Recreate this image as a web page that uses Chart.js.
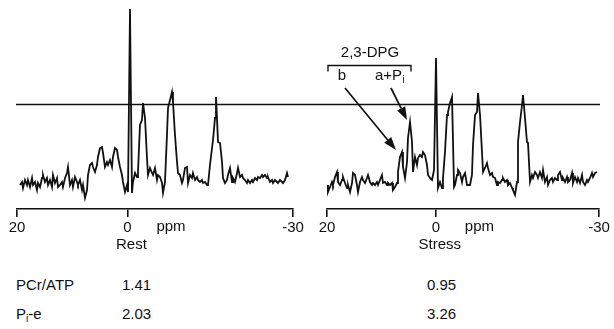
<!DOCTYPE html>
<html lang="en">
<head>
<meta charset="UTF-8">
<script src="https://cdn.jsdelivr.net/npm/chart.js"></script>
<title>31P spectra: rest and stress</title>
<style>
    body {
        margin: 0;
        background: #fff;
        font-family: "Liberation Sans", Arial, sans-serif;
        color: #111;
    }
    #wrap {
        position: relative;
        width: 614px;
        height: 329px;
        overflow: hidden;
    }
    canvas {
        position: absolute;
        top: 0;
    }
    #restChart { left: 0; }
    #stressChart { left: 310px; }
    .cell {
        position: absolute;
        font-size: 15px;
        line-height: 16px;
        white-space: nowrap;
    }
    .cell sub {
        font-size: 10px;
        vertical-align: -3px;
        line-height: 0;
    }
</style>
</head>
<body>
<div id="wrap">
    <canvas id="restChart" width="310" height="260"></canvas>
    <canvas id="stressChart" width="304" height="260"></canvas>
</div>

<script>
    // ---- data (ppm, arbitrary intensity 0-100) ----
    const axisTicks = [20, 0, -30];
    const refLevel = 52.5;   // horizontal reference line

    const restPpm = [
        19.46, 19.09, 18.91, 18.55, 18.19, 18.01, 17.64, 17.28, 17.10, 16.74, 16.38, 16.20, 15.83, 15.47, 15.29, 14.93, 14.57, 14.38, 14.02, 13.66, 13.48, 13.12, 12.75, 12.57,
        12.21, 11.85, 11.67, 11.30, 10.94, 10.76, 10.40, 10.04, 9.86, 9.49, 9.13, 8.95, 8.59, 8.22, 8.04, 7.68, 7.32, 7.14, 6.78, 6.41, 6.23, 5.87, 5.51, 5.33,
        4.96, 4.60, 4.42, 4.06, 3.70, 3.51, 3.15, 2.79, 2.61, 2.25, 1.88, 1.70, 1.34, 0.98, 0.80, 0.43, 0.07, -0.11, -0.47, -0.83, -1.01, -1.38, -1.74, -1.92,
        -2.28, -2.64, -2.83, -3.19, -3.55, -3.73, -4.09, -4.46, -4.64, -5.00, -5.36, -5.54, -5.91, -6.27, -6.45, -6.81, -7.17, -7.36, -7.72, -8.08, -8.26, -8.62, -8.99, -9.17,
        -9.53, -9.89, -10.07, -10.43, -10.80, -10.98, -11.34, -11.70, -11.88, -12.25, -12.61, -12.79, -13.15, -13.51, -13.70, -14.06, -14.42, -14.60, -14.96, -15.33, -15.51, -15.87, -16.05, -16.23, -16.41,
        -16.78, -17.14, -17.32, -17.68, -18.04, -18.22, -18.59, -18.95, -19.13, -19.49, -19.86, -20.04, -20.40, -20.76, -20.94, -21.30, -21.67, -21.85, -22.21, -22.57, -22.75, -23.12, -23.48, -23.66,
        -24.02, -24.38, -24.57, -24.93, -25.29, -25.47, -25.83, -26.20, -26.38, -26.74, -27.10, -27.28, -27.64, -28.01, -28.19, -28.55, -28.91, -29.09
    ];
    const restIntensity = [
        12, 13.5, 10.5, 14.5, 12, 14.5, 11, 15.5, 12, 13.5, 9.5, 13, 11, 15.5, 17, 13.5, 15.5, 12, 14.5, 11, 17, 13, 15.5, 11,
        12, 13.5, 11, 15.5, 18, 21, 12, 14.5, 11, 16, 13.5, 12, 14.5, 9.5, 12, 5.5, 9.5, 17, 22, 23, 21, 18.5, 22, 26,
        30.5, 31, 28, 21, 23.5, 22, 24.5, 21, 26, 30.5, 29.5, 26, 21, 17, 13.5, 8.5, 12, 8.5, 100, 8, 13.5, 18, 16, 18.5,
        42, 44.5, 53, 45.5, 25.5, 17, 20.5, 18, 17, 20.5, 14.5, 17, 16, 13, 8, 13.5, 37, 50.5, 54.5, 58.5, 53.5, 37, 23.5, 18,
        17, 13, 14.5, 20.5, 21, 13, 17, 15.5, 18, 14.5, 16, 14.5, 13.5, 14.5, 13, 13.5, 12, 12, 22, 30.5, 34.5, 45.5, 56, 45.5, 33.5,
        33, 23.5, 15.5, 13, 14.5, 17, 20.5, 13.5, 15.5, 13.5, 18, 20.5, 16, 17, 15.5, 14.5, 13, 14.5, 13, 14.5, 13.5, 15.5, 14.5, 16,
        15.5, 17, 16, 17, 15.5, 16, 13.5, 14.5, 13, 14.5, 13.5, 13, 14.5, 13.5, 13, 14.5, 18, 16
    ];

    const stressPpm = [
        19.95, 19.82, 19.45, 19.08, 18.90, 18.53, 18.16, 17.98, 17.61, 17.24, 17.06, 16.69, 16.32, 16.14, 15.77, 15.40, 15.22, 14.85, 14.49, 14.30, 13.93, 13.57, 13.38, 13.01,
        12.65, 12.46, 12.10, 11.73, 11.54, 11.18, 10.81, 10.62, 10.26, 9.89, 9.71, 9.34, 8.97, 8.79, 8.42, 8.05, 7.87, 7.50, 7.13, 6.95, 6.58, 6.21, 6.03, 5.66,
        5.29, 5.11, 4.74, 4.37, 4.19, 3.82, 3.46, 3.27, 2.90, 2.54, 2.35, 1.99, 1.62, 1.43, 1.07, 0.70, 0.51, 0.33, -0.04, -0.40, -0.77, -1.14, -1.32,
        -1.69, -2.06, -2.24, -2.61, -2.98, -3.35, -3.53, -3.90, -4.08, -4.45, -4.82, -5.00, -5.37, -5.74, -5.92, -6.29, -6.65, -6.84, -7.21, -7.57, -7.76, -8.13, -8.49, -8.68,
        -9.04, -9.41, -9.60, -9.96, -10.33, -10.51, -10.88, -11.25, -11.43, -11.80, -12.17, -12.35, -12.72, -13.09, -13.27, -13.64, -14.01, -14.19, -14.56, -14.93, -15.11, -15.48, -15.85, -16.03,
        -16.40, -16.76, -16.95, -17.32, -17.68, -17.87, -18.24, -18.60, -18.79, -19.15, -19.52, -19.71, -20.07, -20.44, -20.63, -20.99, -21.36, -21.54, -21.91, -22.28, -22.46, -22.83, -23.20, -23.38,
        -23.75, -24.12, -24.30, -24.67, -25.04, -25.22, -25.59, -25.96, -26.14, -26.51, -26.88, -27.06, -27.43, -27.79, -27.98, -28.35, -28.71, -28.90, -29.26, -29.63
    ];
    const stressIntensity = [
        12, 8.5, 11, 13.5, 12, 16, 18.5, 13.5, 12, 14.5, 16, 13, 10.5, 12, 8.5, 13, 18, 17, 12, 8.5, 13.5, 16, 14.5, 13,
        15.5, 17, 13.5, 12, 13, 12, 13.5, 12, 14.5, 17, 13, 13.5, 12, 13, 12, 13, 9.5, 11, 13, 18.5, 26, 28.5, 21, 15.5,
        23.5, 35.5, 43.5, 33.5, 18.5, 26, 22, 25.5, 27, 26, 28.5, 27, 22, 17, 15.5, 14.5, 17, 19.5, 75.5, 10.5, 13.5, 10.5, 15.5,
        28.5, 47, 48.5, 53, 56, 11, 12, 17, 19.5, 18, 13.5, 16, 18, 12, 12, 12, 17, 32, 47, 48.5, 58, 47, 28.5, 18.5,
        20.5, 23, 20.5, 17, 18, 16, 15.5, 12, 13.5, 13, 14.5, 15.5, 13.5, 14.5, 12, 13, 10.5, 9.5, 7, 13.5, 33.5, 43.5, 52, 57,
        45.5, 33.5, 33, 13.5, 17, 15.5, 18.5, 17, 15.5, 18.5, 15.5, 19.5, 13.5, 16, 12, 14.5, 15.5, 13.5, 15.5, 14.5, 17, 18.5, 14.5, 15.5,
        13.5, 16, 13.5, 14.5, 18, 13, 16, 13.5, 15.5, 13, 17, 13.5, 12, 14.5, 13.5, 15.5, 18, 16, 18, 18.5
    ];

    const rowLabels = ['PCr/ATP', 'P<sub>i</sub>-e'];
    const restValues = ['1.41', '2.03'];
    const stressValues = ['0.95', '3.26'];

    // ---- drawing ----
    const FONT = '"Liberation Sans", Arial, sans-serif';
    const INK = '#111';

    function arrow(ctx, x1, y1, x2, y2) {
        const ang = Math.atan2(y2 - y1, x2 - x1);
        const len = 13, half = 4.5;
        const bx = x2 - len * Math.cos(ang), by = y2 - len * Math.sin(ang);
        ctx.beginPath();
        ctx.moveTo(x1, y1);
        ctx.lineTo(bx, by);
        ctx.stroke();
        ctx.beginPath();
        ctx.moveTo(x2, y2);
        ctx.lineTo(bx + half * Math.sin(ang), by - half * Math.cos(ang));
        ctx.lineTo(bx - half * Math.sin(ang), by + half * Math.cos(ang));
        ctx.closePath();
        ctx.fill();
    }

    const spectrumExtras = {
        id: 'spectrumExtras',
        afterDatasetsDraw(chart, args, opts) {
            const { ctx, chartArea, scales: { x, y } } = chart;
            ctx.save();
            ctx.strokeStyle = INK;
            ctx.fillStyle = INK;

            // reference line, runs on into the neighbouring panel
            const yRef = Math.round(y.getPixelForValue(refLevel)) + 0.5;
            ctx.lineWidth = 1.4;
            ctx.beginPath();
            ctx.moveTo(opts.side === 'left' ? chartArea.left - 1 : 0, yRef);
            ctx.lineTo(opts.side === 'left' ? chart.width : chartArea.right + 1, yRef);
            ctx.stroke();

            // "ppm" and panel caption
            const x0 = x.getPixelForValue(0);
            ctx.font = '15px ' + FONT;
            ctx.textBaseline = 'middle';
            ctx.textAlign = 'left';
            ctx.fillText('ppm', x0 + 29, chartArea.bottom + 18);
            ctx.textAlign = 'center';
            ctx.fillText(opts.caption, x0 + 4, chartArea.bottom + 36);

            if (opts.dpg) {
                const px = v => x.getPixelForValue(v);
                const py = v => y.getPixelForValue(v);
                // bracket
                const bl = px(19.82), br = px(4.56), by = Math.round(py(72)) + 0.5;
                ctx.lineWidth = 1.4;
                ctx.beginPath();
                ctx.moveTo(bl, by + 6);
                ctx.lineTo(bl, by);
                ctx.lineTo(br, by);
                ctx.lineTo(br, by + 6);
                ctx.stroke();
                ctx.textAlign = 'center';
                ctx.fillText('2,3-DPG', px(12.1), py(78));
                ctx.fillText('b', px(17.24), py(66.5));
                ctx.textAlign = 'left';
                const ax = px(11.18), ay = py(66.5);
                ctx.fillText('a+P', ax, ay);
                const w = ctx.measureText('a+P').width;
                ctx.font = '10px ' + FONT;
                ctx.fillText('i', ax + w + 0.5, ay + 4);
                // arrows to the 2,3-DPG peaks
                ctx.lineWidth = 1.7;
                arrow(ctx, px(16.69), py(60.5), px(7.32), py(29.5));
                arrow(ctx, px(8.24), py(60.5), px(5.29), py(44.5));
            }
            ctx.restore();
        }
    };

    function makeSpectrum(canvasId, ppm, intensity, extras, padding) {
        const points = ppm.map((p, i) => ({ x: p, y: intensity[i] }));
        return new Chart(document.getElementById(canvasId), {
            type: 'scatter',
            data: {
                datasets: [{
                    data: points,
                    showLine: true,
                    borderColor: INK,
                    borderWidth: 1.8,
                    pointRadius: 0,
                    tension: 0
                }]
            },
            options: {
                responsive: false,
                animation: false,
                layout: { padding: padding },
                plugins: {
                    legend: { display: false },
                    tooltip: { enabled: false },
                    spectrumExtras: extras
                },
                scales: {
                    x: {
                        type: 'linear',
                        min: -30,
                        max: 20,
                        reverse: true,
                        afterBuildTicks: s => { s.ticks = axisTicks.map(v => ({ value: v })); },
                        afterFit: s => { s.height = 51; },
                        border: { display: true, color: INK, width: 1.6 },
                        grid: { drawOnChartArea: false, drawTicks: true, tickLength: 8, color: INK, lineWidth: 1.6 },
                        ticks: { color: INK, font: { family: FONT, size: 15 }, padding: 2, maxRotation: 0 }
                    },
                    y: { display: false, min: 0, max: 100 }
                }
            },
            plugins: [spectrumExtras]
        });
    }

    makeSpectrum('restChart', restPpm, restIntensity,
        { side: 'left', caption: 'Rest', dpg: false },
        { left: 17, right: 17, top: 9, bottom: 0 });
    makeSpectrum('stressChart', stressPpm, stressIntensity,
        { side: 'right', caption: 'Stress', dpg: true },
        { left: 17, right: 15, top: 9, bottom: 0 });

    // ratio table under the spectra
    const wrap = document.getElementById('wrap');
    const rowY = [277, 306];
    function cell(html, left, top) {
        const d = document.createElement('div');
        d.className = 'cell';
        d.innerHTML = html;
        d.style.left = left + 'px';
        d.style.top = top + 'px';
        wrap.appendChild(d);
    }
    rowLabels.forEach((label, i) => {
        cell(label, 16, rowY[i]);
        cell(restValues[i], 122, rowY[i]);
        cell(stressValues[i], 427, rowY[i]);
    });
</script>
</body>
</html>
